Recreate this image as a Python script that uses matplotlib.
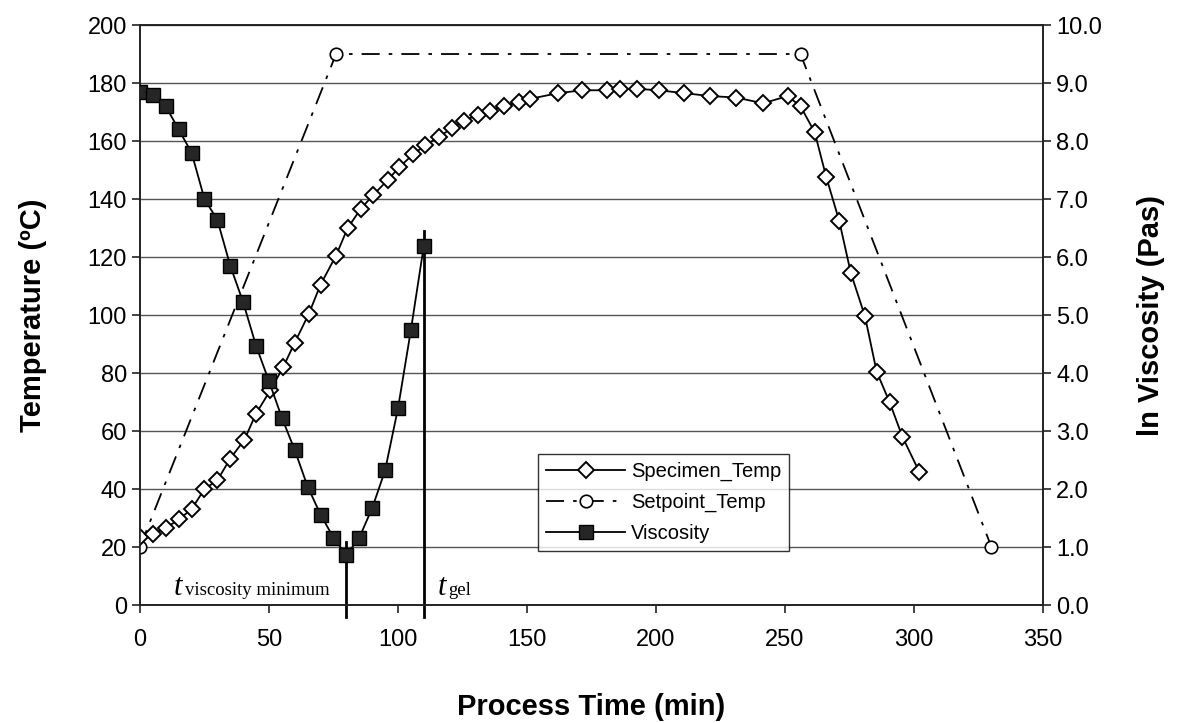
"""
Cure cycle plot: specimen / setpoint temperature and ln viscosity vs. process time.
"""

import matplotlib.pyplot as plt

plt.rcParams["font.family"] = ["Liberation Sans", "DejaVu Sans"]

# Specimen temperature (deg C) vs. time (min)
spec_time = [0, 5, 10, 15, 20, 25, 30, 35, 40.5, 45, 50.5, 55.5, 60, 65.5, 70, 76,
             80.5, 85.5, 90.5, 96, 100.5, 106, 110.5, 116, 121, 125.5, 131, 135.5,
             141, 147, 151, 162, 171.5, 181, 186, 192.5, 201, 211, 221, 231, 241.5,
             251, 256, 261.5, 266, 271, 275.5, 281, 285.5, 290.5, 295.5, 302]
spec_temp = [23.5, 24.5, 26.5, 29.5, 33, 40, 43, 50.5, 57, 66, 74, 82, 90.5, 100.5,
             110.5, 120.5, 130, 136.5, 141.5, 146.5, 151, 155.5, 158.5, 161.5, 164.5,
             167, 169, 170.5, 172, 173.5, 174.5, 176.5, 177.5, 177.5, 178, 178, 177.5,
             176.5, 175.5, 175, 173, 175.5, 172, 163, 147.5, 132.5, 114.5, 99.5, 80.5,
             70, 58, 46]

# Oven setpoint (deg C)
set_time = [0, 76, 256, 330]
set_temp = [20, 190, 190, 20]

# ln viscosity (Pas)
visc_time = [0, 5, 10, 15, 20, 25, 30, 35, 40, 45, 50, 55, 60, 65, 70, 75, 80, 85,
             90, 95, 100, 105, 110]
visc_ln = [8.85, 8.8, 8.6, 8.2, 7.8, 7.0, 6.64, 5.85, 5.22, 4.47, 3.86, 3.23, 2.67,
           2.04, 1.56, 1.16, 0.86, 1.16, 1.67, 2.32, 3.39, 4.74, 6.19]

# marker lines for the two characteristic times
t_min, t_min_top = 80, 21.7
t_gel, t_gel_top = 110, 129


def main():
    fig = plt.figure(figsize=(11.83, 7.23), dpi=100)
    ax = fig.add_axes([0.1183, 0.1632, 0.7634, 0.8022])
    ax2 = ax.twinx()

    ax.set_xlim(0, 350)
    ax.set_ylim(0, 200)
    ax2.set_ylim(0, 10)
    ax.set_xticks(range(0, 351, 50))
    ax.set_yticks(range(0, 201, 20))
    ax2.set_yticks(range(0, 11))
    ax2.set_yticklabels([f"{v:.1f}" for v in range(0, 11)])

    ax.grid(axis="y", color="#555555", linewidth=1.0)
    ax.set_axisbelow(True)
    for a in (ax, ax2):
        for s in a.spines.values():
            s.set_color("#222222")
            s.set_linewidth(1.2)
        a.tick_params(labelsize=17, direction="out", length=6, width=1.2, colors="#222222")
        a.tick_params(labelcolor="black")
    ax.tick_params(axis="x", pad=11)

    l1, = ax.plot(spec_time, spec_temp, color="black", linewidth=1.3, marker="D",
                  markersize=8, markerfacecolor="white", markeredgecolor="black",
                  markeredgewidth=1.4, label="Specimen_Temp", zorder=4)
    l2, = ax.plot(set_time, set_temp, color="black", linewidth=1.3, linestyle=(0, (10, 5, 2, 5)),
                  marker="o", markersize=9, markerfacecolor="white", markeredgecolor="black",
                  markeredgewidth=1.2, label="Setpoint_Temp", zorder=3)
    l3, = ax2.plot(visc_time, visc_ln, color="black", linewidth=1.3, marker="s",
                   markersize=10, markerfacecolor="#262626", markeredgecolor="black",
                   label="Viscosity", zorder=5)

    ax.plot([t_min, t_min], [-4, t_min_top], color="black", linewidth=2, clip_on=False, zorder=2)
    ax.plot([t_gel, t_gel], [-4, t_gel_top], color="black", linewidth=2, clip_on=False, zorder=2)

    serif = ["Liberation Serif", "DejaVu Serif"]
    ax.text(13.2, 3.4, "t", fontsize=22, family=serif, style="italic", va="baseline")
    ax.text(17.4, 3.4, "viscosity minimum", fontsize=13.5, family=serif, va="baseline")
    ax.text(115.3, 3.4, "t", fontsize=22, family=serif, style="italic", va="baseline")
    ax.text(119.3, 3.4, "gel", fontsize=13.5, family=serif, va="baseline")

    ax.set_xlabel("Process Time (min)", fontsize=21, fontweight="bold")
    ax.set_ylabel("Temperature (\u00baC)", fontsize=21, fontweight="bold")
    ax2.set_ylabel("ln Viscosity (Pas)", fontsize=21, fontweight="bold")
    ax.xaxis.set_label_coords(0.5, -0.152)
    ax.yaxis.set_label_coords(-0.103, 0.5)
    ax2.yaxis.set_label_coords(1.104, 0.5)

    ax2.set_zorder(ax.get_zorder() + 1)
    ax2.patch.set_visible(False)

    leg = ax2.legend(handles=[l1, l2, l3], loc="upper left", bbox_to_anchor=(0.441, 0.261),
                     fontsize=14.5, frameon=True, fancybox=False, handlelength=3.9,
                     borderpad=0.4, labelspacing=0.6, handletextpad=0.3, borderaxespad=0)
    leg.get_frame().set_edgecolor("black")
    leg.get_frame().set_linewidth(1.0)

    fig.savefig("out.png", dpi=100)
    plt.close(fig)


if __name__ == "__main__":
    main()
